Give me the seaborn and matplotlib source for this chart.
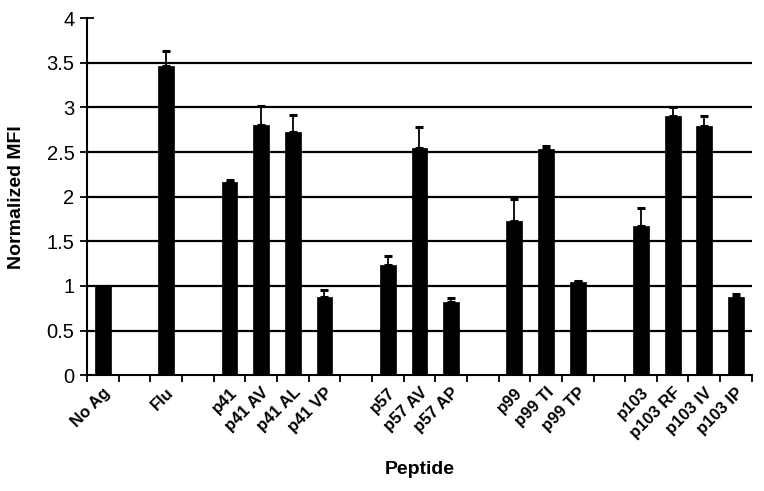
import numpy as np
import pandas as pd
import matplotlib
matplotlib.use("Agg")
import matplotlib.pyplot as plt
import seaborn as sns

# Categories (blank strings are spacer slots between peptide groups)
categories = ["No Ag", " ", "Flu", "  ",
              "p41", "p41 AV", "p41 AL", "p41 VP", "   ",
              "p57", "p57 AV", "p57 AP", "    ",
              "p99", "p99 TI", "p99 TP", "     ",
              "p103", "p103 RF", "p103 IV", "p103 IP"]
mfi = [1.0, np.nan, 3.46, np.nan,
       2.16, 2.80, 2.73, 0.88, np.nan,
       1.23, 2.55, 0.82, np.nan,
       1.73, 2.53, 1.04, np.nan,
       1.67, 2.90, 2.79, 0.88]
err = [0.0, np.nan, 0.17, np.nan,
       0.03, 0.22, 0.19, 0.07, np.nan,
       0.10, 0.23, 0.04, np.nan,
       0.24, 0.04, 0.02, np.nan,
       0.20, 0.10, 0.11, 0.03]
y_ticks = [0, 0.5, 1, 1.5, 2, 2.5, 3, 3.5, 4]
y_ticklabels = ["0", "0.5", "1", "1.5", "2", "2.5", "3", "3.5", "4"]

df = pd.DataFrame({"Peptide": categories, "MFI": mfi, "err": err})

sns.set_theme(style="white")
plt.rcParams["font.family"] = ["Liberation Sans", "DejaVu Sans"]
plt.rcParams["text.color"] = "black"
plt.rcParams["axes.labelcolor"] = "black"
plt.rcParams["xtick.color"] = "black"
plt.rcParams["ytick.color"] = "black"

fig = plt.figure(figsize=(7.64, 4.91), dpi=100)
ax = fig.add_axes([0.114, 0.236, 0.870, 0.727])

# gridlines behind
for v in y_ticks[1:-1]:
    ax.axhline(v, color="black", lw=1.6, zorder=0)

sns.barplot(data=df, x="Peptide", y="MFI", order=categories, color="black",
            width=0.5, saturation=1, errorbar=None, ax=ax, zorder=2,
            edgecolor="black", linewidth=0.5)

pos = np.arange(len(categories))
vals = df["MFI"].to_numpy()
errs = df["err"].to_numpy()
mask = ~np.isnan(vals) & (np.nan_to_num(errs) > 0)
ax.errorbar(pos[mask], vals[mask], yerr=[np.zeros(mask.sum()), errs[mask]],
            fmt="none", ecolor="black", elinewidth=1.3, capsize=2.8, capthick=2.2, zorder=3)

ax.set_xlim(-0.5, len(categories) - 0.5)
ax.set_ylim(0, 4)
ax.set_yticks(y_ticks)
ax.set_yticklabels(y_ticklabels, fontsize=14.5, color="black")
ax.set_xticks(pos)
ax.set_xticklabels([c.strip() for c in categories], rotation=45, ha="right",
                   rotation_mode="anchor", fontsize=12, fontweight="bold", color="black")
ax.set_xticks(np.arange(-0.5, len(categories)), minor=True)
ax.tick_params(axis="x", which="major", bottom=True, length=0, pad=7)
ax.tick_params(axis="x", which="minor", bottom=True, length=5, width=1.3,
               direction="out", color="black")
ax.tick_params(axis="y", which="major", left=True, length=10, width=1.3,
               direction="inout", color="black", pad=4)

for s in ["top", "right"]:
    ax.spines[s].set_visible(False)
for s in ["left", "bottom"]:
    ax.spines[s].set_color("black")
    ax.spines[s].set_linewidth(1.5)

ax.set_xlabel("Peptide", fontsize=14, fontweight="bold", color="black")
ax.set_ylabel("Normalized MFI", fontsize=14, fontweight="bold", color="black")
ax.xaxis.set_label_coords(0.5, -0.241)
ax.yaxis.set_label_coords(-0.093, 0.5)

fig.savefig("out.png", dpi=100)
